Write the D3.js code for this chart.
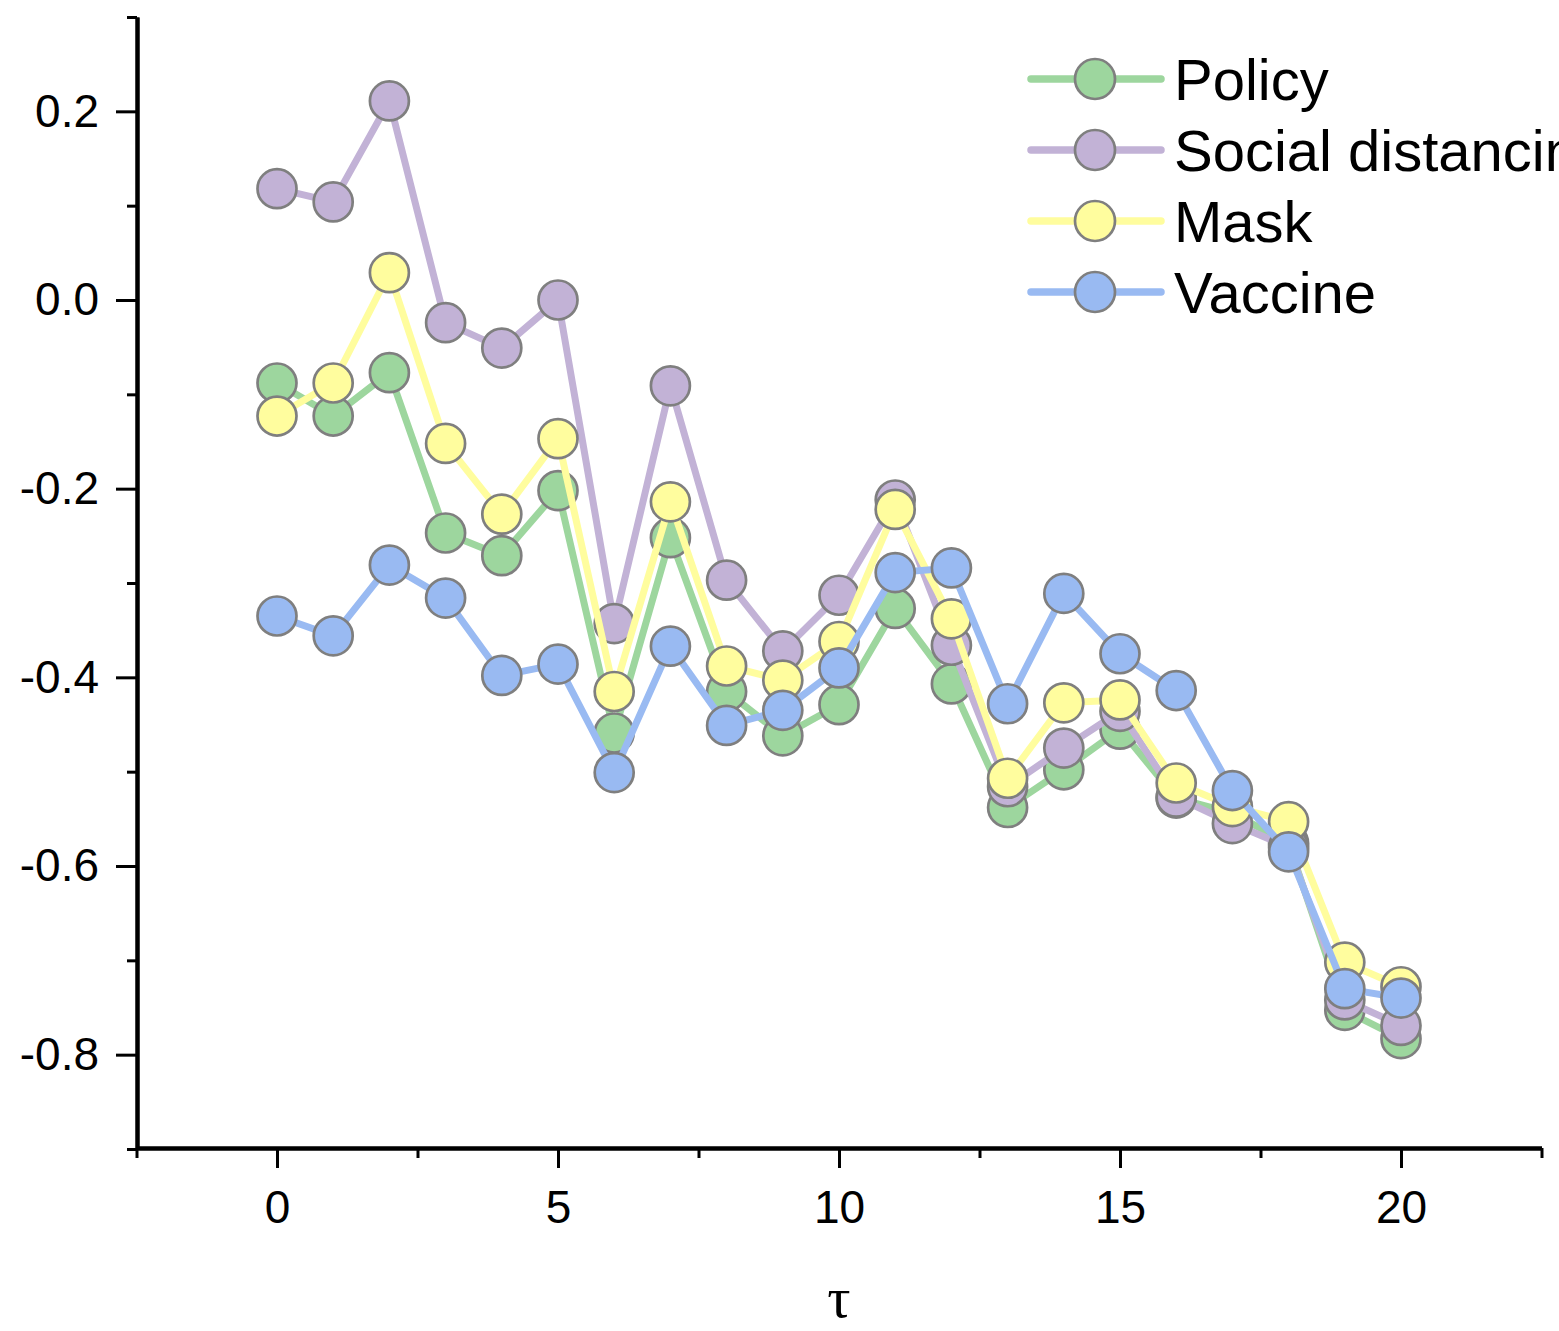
<!DOCTYPE html>
<html>
<head>
<meta charset="utf-8">
<script src="https://cdn.jsdelivr.net/npm/d3@7"></script>
<style>
  html, body { margin: 0; padding: 0; background: #fff; }
  svg { display: block; }
</style>
</head>
<body>
<svg id="chart" width="1559" height="1331"></svg>
<script>
// ---- data ----
const taus = [0,1,2,3,4,5,6,7,8,9,10,11,12,13,14,15,16,17,18,19,20];
const seriesNames = ["Policy", "Social distancing", "Mask", "Vaccine"];
const policy = [-0.088,-0.123,-0.077,-0.247,-0.271,-0.202,-0.459,-0.252,-0.415,-0.462,-0.429,-0.327,-0.407,-0.538,-0.498,-0.455,-0.528,-0.544,-0.576,-0.753,-0.783];
const socialDistancing = [0.118,0.104,0.211,-0.024,-0.051,0.000,-0.343,-0.091,-0.297,-0.372,-0.313,-0.212,-0.366,-0.516,-0.475,-0.436,-0.527,-0.555,-0.580,-0.742,-0.769];
const mask = [-0.123,-0.088,0.029,-0.152,-0.227,-0.147,-0.415,-0.214,-0.388,-0.403,-0.362,-0.222,-0.338,-0.507,-0.427,-0.424,-0.512,-0.537,-0.553,-0.702,-0.728];
const vaccine = [-0.335,-0.356,-0.281,-0.316,-0.398,-0.386,-0.501,-0.367,-0.451,-0.435,-0.390,-0.289,-0.284,-0.428,-0.311,-0.375,-0.414,-0.520,-0.585,-0.730,-0.740];
const colors = ["#9dd69e", "#c2b2d6", "#fffd9e", "#99baf2"];
const xMajorTicks = [0,5,10,15,20];
const xMinorTicks = [-2.5,2.5,7.5,12.5,17.5,22.5];
const yMajorTicks = [-0.8,-0.6,-0.4,-0.2,0.0,0.2];
const yMinorTicks = [-0.9,-0.7,-0.5,-0.3,-0.1,0.1,0.3];
const xTitle = "τ";

const allSeries = [policy, socialDistancing, mask, vaccine];

// ---- chart ----
const svg = d3.select("#chart");
svg.append("rect").attr("width",1559).attr("height",1331).attr("fill","#fff");

const x = d3.scaleLinear().domain([-2.5, 22.5]).range([136.5, 1541.5]);
const y = d3.scaleLinear().domain([-0.9, 0.3]).range([1149, 17]);
const font = "'Liberation Sans', Arial, sans-serif";

// series
const line = d3.line().x(d => x(d[0])).y(d => y(d[1]));
allSeries.forEach((vals, i) => {
  const pts = taus.map((t, k) => [t, vals[k]]);
  const g = svg.append("g");
  g.append("path").datum(pts)
    .attr("d", line).attr("fill","none")
    .attr("stroke", colors[i]).attr("stroke-width", 7)
    .attr("stroke-linejoin","round").attr("stroke-linecap","round");
  g.selectAll("circle").data(pts).join("circle")
    .attr("cx", d => x(d[0])).attr("cy", d => y(d[1])).attr("r", 19.5)
    .attr("fill", colors[i]).attr("stroke", "#7f7f7f").attr("stroke-width", 2.7);
});

// axes
function styleAxis(g, w) {
  g.selectAll("path.domain").attr("stroke","#000").attr("stroke-width", w);
  g.selectAll(".tick line").attr("stroke","#000").attr("stroke-width", 3);
  g.selectAll("text").attr("fill","#000").style("font-family", font).style("font-size","46px");
}
const yMinor = svg.append("g").attr("transform","translate(137,0)")
  .call(d3.axisLeft(y).tickValues(yMinorTicks).tickSize(10).tickSizeOuter(0).tickFormat(""));
styleAxis(yMinor, 4);
const yMajor = svg.append("g").attr("transform","translate(137,0)")
  .call(d3.axisLeft(y).tickValues(yMajorTicks).tickSize(21).tickSizeOuter(0).tickPadding(17)
    .tickFormat(d => d.toFixed(1)));
styleAxis(yMajor, 4);

const xMinor = svg.append("g").attr("transform","translate(0,1148)")
  .call(d3.axisBottom(x).tickValues(xMinorTicks).tickSize(10).tickSizeOuter(0).tickFormat(""));
styleAxis(xMinor, 4);
const xMajor = svg.append("g").attr("transform","translate(0,1148)")
  .call(d3.axisBottom(x).tickValues(xMajorTicks).tickSize(20).tickSizeOuter(0).tickPadding(22)
    .tickFormat(d3.format("d")));
styleAxis(xMajor, 4);

svg.append("text").attr("x", x(10)).attr("y", 1317)
  .attr("text-anchor","middle")
  .style("font-family","'Liberation Serif', 'Times New Roman', serif")
  .style("font-size","58px").text(xTitle);

// legend
const legRowY = [79, 150, 221, 292];
seriesNames.forEach((name, i) => {
  const g = svg.append("g").attr("transform", `translate(0,${legRowY[i]})`);
  g.append("line").attr("x1",1031).attr("x2",1161).attr("y1",0).attr("y2",0)
    .attr("stroke", colors[i]).attr("stroke-width",7.5).attr("stroke-linecap","round");
  g.append("circle").attr("cx",1095).attr("cy",0).attr("r",20)
    .attr("fill", colors[i]).attr("stroke","#7f7f7f").attr("stroke-width",2.7);
  g.append("text").attr("x",1174).attr("y",0).attr("dy","0.36em")
    .style("font-family", font).style("font-size","58px").attr("fill","#000").text(name);
});
</script>
</body>
</html>
